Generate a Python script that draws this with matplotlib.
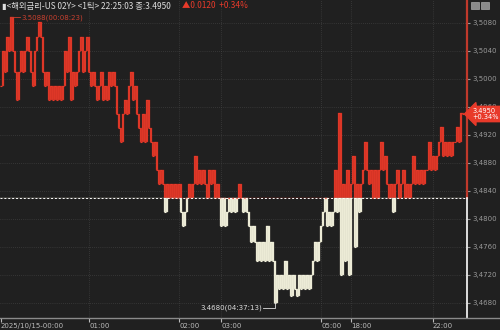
import numpy as np
import matplotlib
matplotlib.use('Agg')
import matplotlib.pyplot as plt
from matplotlib.lines import Line2D
from matplotlib.patches import Rectangle
import matplotlib.transforms as mtransforms

# ── Data (tick closes) ───────────────────────────────────────────────────────
closes = [
    3.4990, 3.5040, 3.5010, 3.5060, 3.5040, 3.5088, 3.5040, 3.5010, 3.4970, 3.5010,
    3.5040, 3.5010, 3.5040, 3.5060, 3.5040, 3.5010, 3.4990, 3.5040, 3.5060, 3.5081,
    3.5060, 3.5010, 3.4990, 3.5010, 3.4970, 3.4990, 3.4970, 3.4990, 3.4970, 3.4990,
    3.4970, 3.4990, 3.5040, 3.5010, 3.5060, 3.4970, 3.5010, 3.4990, 3.5010, 3.5040,
    3.5060, 3.5010, 3.5040, 3.5060, 3.5010, 3.4990, 3.5010, 3.4990, 3.4970, 3.4990,
    3.5010, 3.4970, 3.4990, 3.4970, 3.5010, 3.4990, 3.5010, 3.4990, 3.4950, 3.4930,
    3.4910, 3.4950, 3.4970, 3.4950, 3.4990, 3.5010, 3.4970, 3.4990, 3.4950, 3.4930,
    3.4910, 3.4950, 3.4910, 3.4970, 3.4930, 3.4910, 3.4890, 3.4910, 3.4870, 3.4850,
    3.4870, 3.4850, 3.4810, 3.4850, 3.4830, 3.4850, 3.4830, 3.4850, 3.4830, 3.4850,
    3.4810, 3.4790, 3.4810, 3.4830, 3.4850, 3.4830, 3.4850, 3.4890, 3.4850, 3.4870,
    3.4850, 3.4870, 3.4850, 3.4830, 3.4870, 3.4850, 3.4870, 3.4830, 3.4850, 3.4830,
    3.4790, 3.4830, 3.4790, 3.4810, 3.4830, 3.4810, 3.4830, 3.4810, 3.4830, 3.4850,
    3.4830, 3.4810, 3.4830, 3.4810, 3.4790, 3.4767, 3.4790, 3.4767, 3.4740, 3.4767,
    3.4740, 3.4767, 3.4740, 3.4790, 3.4740, 3.4767, 3.4740, 3.4680, 3.4720, 3.4700,
    3.4720, 3.4700, 3.4740, 3.4700, 3.4720, 3.4690, 3.4720, 3.4700, 3.4690, 3.4720,
    3.4700, 3.4720, 3.4700, 3.4720, 3.4700, 3.4720, 3.4740, 3.4767, 3.4740, 3.4767,
    3.4790, 3.4810, 3.4830, 3.4790, 3.4810, 3.4790, 3.4810, 3.4870, 3.4810, 3.4951,
    3.4720, 3.4850, 3.4740, 3.4870, 3.4720, 3.4850, 3.4890, 3.4760, 3.4850, 3.4810,
    3.4850, 3.4870, 3.4910, 3.4870, 3.4850, 3.4870, 3.4830, 3.4870, 3.4830, 3.4870,
    3.4910, 3.4870, 3.4890, 3.4850, 3.4830, 3.4850, 3.4810, 3.4850, 3.4870, 3.4830,
    3.4850, 3.4870, 3.4830, 3.4850, 3.4830, 3.4850, 3.4890, 3.4850, 3.4870, 3.4850,
    3.4870, 3.4850, 3.4870, 3.4870, 3.4910, 3.4870, 3.4890, 3.4870, 3.4890, 3.4910,
    3.4931, 3.4890, 3.4910, 3.4890, 3.4910, 3.4890, 3.4910, 3.4910, 3.4931, 3.4910,
    3.4951, 3.4950,
]
prev_close = 3.4830
last_price = 3.4950
y_ticks = [3.4680, 3.4720, 3.4760, 3.4800, 3.4840, 3.4880, 3.4920, 3.4960, 3.5000, 3.5040, 3.5080]
x_tick_idx = [0, 44, 89, 110, 160, 175, 216]
x_tick_labels = ['2025/10/15-00:00', '01:00', '02:00', '03:00', '05:00', '18:00', '22:00']
hi_idx, hi_label = 5, '3.5088(00:08:23)'
lo_idx, lo_label = 137, '3.4680(04:37:13)'
title_main = '▮<해외금리-US 02Y> <1틱> 22:25:03 종:3.4950'
title_chg = '▲0.0120  +0.34%'

# ── Style ─────────────────────────────────────────────────────────────────────
BG = '#202020'
RED = '#e83a2a'
RED_EDGE = '#b02a1e'
CREAM = '#f4f3de'
CREAM_EDGE = '#c9c8b4'
FONT = ['Noto Sans CJK KR', 'DejaVu Sans']

W, H = 500, 330
fig = plt.figure(figsize=(W / 100, H / 100), dpi=100)
fig.patch.set_facecolor(BG)
ax = fig.add_axes([0, 12 / H, 467 / W, 318 / H])
ax.set_facecolor(BG)

n = len(closes)
c = np.array(closes)
prev = np.concatenate([[c[0]], c[:-1]])
lo = np.minimum(prev, c)
hi = np.maximum(prev, c)
xs = np.arange(n) + 0.5

# red above previous close, cream below
r_bot, r_top = np.maximum(lo, prev_close), np.maximum(hi, prev_close)
w_bot, w_top = np.minimum(lo, prev_close), np.minimum(hi, prev_close)
ax.bar(xs, r_top - r_bot, bottom=r_bot, width=1.0, color=RED, ec=RED_EDGE, lw=0.25, zorder=3)
ax.bar(xs, w_top - w_bot, bottom=w_bot, width=1.0, color=CREAM, ec=CREAM_EDGE, lw=0.25, zorder=3)
for i in range(n):
    col = RED if c[i] >= prev_close else CREAM
    ax.hlines(c[i], i, i + 1, colors=col, lw=0.8, zorder=3)

ymin, ymax = 3.4680 - 15 / 7000, 3.5080 + 23 / 7000
xmax = 233.5
ax.set_ylim(ymin, ymax)
ax.set_xlim(0, xmax)

# grid
for yv in y_ticks:
    ax.axhline(yv, color='#4a4a4a', lw=0.5, ls=(0, (1, 2)), zorder=1)
for xi in x_tick_idx[1:]:
    ax.axvline(xi + 0.5, color='#4a4a4a', lw=0.5, ls=(0, (1, 2)), zorder=1)
ax.axhline(prev_close, color='white', lw=0.7, ls=(0, (2, 2)), zorder=4)

# axes
for sp in ax.spines.values():
    sp.set_visible(False)
ax.yaxis.tick_right()
ax.set_yticks(y_ticks)
ax.set_yticklabels([f'{v:.4f}'.replace('.', ',') for v in y_ticks])
ax.tick_params(axis='y', length=2, pad=2, colors='#999999', labelsize=5)
ax.set_xticks([i + 0.5 for i in x_tick_idx])
ax.set_xticklabels(x_tick_labels)
ax.tick_params(axis='x', length=3, pad=0.5, colors='#bbbbbb', labelsize=5)
for lab in ax.get_xticklabels():
    lab.set_ha('left')

frac = (prev_close - ymin) / (ymax - ymin)
ax.axvline(xmax, ymin=frac, ymax=1, color='#c0392b', lw=1.6, clip_on=False, zorder=5)
ax.axvline(xmax, ymin=0, ymax=frac, color='white', lw=1.2, clip_on=False, zorder=5)
fig.add_artist(Line2D([0, 1], [12 / H, 12 / H], color='#8a8a8a', lw=1.0))

# hi / lo annotations
hx = hi_idx + 0.5
ax.plot([hx, hx + 4.5], [closes[hi_idx]] * 2, color='#c8402f', lw=0.6, zorder=4)
ax.text(hx + 5, closes[hi_idx], hi_label, color='#c8402f', fontsize=5,
        va='center', ha='left', zorder=6)
lx = lo_idx + 0.5
ly = closes[lo_idx] - 0.0007
ax.plot([lx - 6, lx, lx], [ly, ly, closes[lo_idx]], color='#dddddd', lw=0.6, zorder=4)
ax.text(lx - 6.5, ly, lo_label, color='#dddddd', fontsize=5, va='center', ha='right', zorder=6)

# current price tag
trans = mtransforms.blended_transform_factory(ax.transAxes, ax.transData)
ax.text(1.012, last_price, f'{last_price:.4f}\n+0.34%', transform=trans, color='white',
        fontsize=4.8, ha='left', va='center', linespacing=1.0, clip_on=False, zorder=7,
        bbox=dict(boxstyle='larrow,pad=0.25', fc=RED, ec=RED))

# header
fig.text(2 / W, 1 - 6 / H, title_main, color='#dddddd', fontsize=6, family=FONT,
         ha='left', va='center')
fig.text(182 / W, 1 - 6 / H, title_chg, color=RED, fontsize=6, family=FONT,
         ha='left', va='center')

# toolbar icons top right
for x0 in (471, 481):
    fig.add_artist(Rectangle((x0 / W, 1 - 9 / H), 8 / W, 7 / H, transform=fig.transFigure,
                             fc='#8a8a8a', ec='#bbbbbb', lw=0.4))

fig.savefig('out.png', dpi=100, facecolor=BG)
